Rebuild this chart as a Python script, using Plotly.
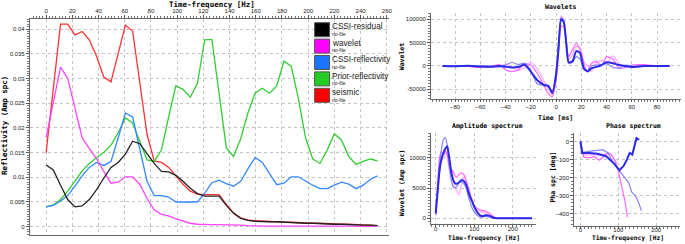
import plotly.graph_objects as go

W, H = 685, 244

# ---------------- main chart data ----------------
freq = [0, 5.5, 11, 16.5, 22, 27.5, 33, 38.5, 44, 49.5, 55, 60.5, 66, 71.5, 77, 82.5, 88, 93.5,
        99, 104.5, 110, 115.5, 121, 126.5, 132, 137.5, 143, 148.5, 154, 159.5, 165, 170.5, 176,
        181.5, 187, 192.5, 198, 203.5, 209, 214.5, 220, 225.5, 231, 236.5, 242, 247.5, 253]

cssi_residual = [0.0125, 0.0115, 0.0084, 0.0055, 0.004, 0.0042, 0.0055, 0.0075, 0.0098, 0.012,
                 0.013, 0.0147, 0.0173, 0.0168, 0.0148, 0.0128, 0.0112, 0.0111, 0.0104, 0.0092,
                 0.0078, 0.0067, 0.0062, 0.0062, 0.0062, 0.0043, 0.0027, 0.0017, 0.0013, 0.0011,
                 0.001, 0.001, 0.001, 0.0009, 0.0008, 0.0008, 0.0007, 0.0007, 0.0006, 0.0006,
                 0.0005, 0.0005, 0.0004, 0.0004, 0.0003, 0.0003, 0.0002]
wavelet_amp = [0.018, 0.025, 0.0323, 0.030, 0.024, 0.018, 0.0158, 0.0138, 0.0112, 0.0088,
               0.009, 0.0101, 0.0101, 0.0086, 0.0057, 0.0034, 0.0025, 0.0022, 0.0016, 0.0011,
               0.0007, 0.0005, 0.0004, 0.0004, 0.0004, 0.0004, 0.0004, 0.0003, 0.0002, 0.0001,
               0.0001, 0.0001, 0.0001, 0.0001, 0.0001, 0.0001, 0.0001, 0.0001, 0.0001, 0.0001,
               0.0001, 0.0001, 0.0001, 0.0001, 0.0001, 0.0001, 0.0001]
cssi_reflectivity = [0.004, 0.0043, 0.0052, 0.0063, 0.0082, 0.0103, 0.012, 0.013, 0.0124, 0.0132,
                     0.018, 0.023, 0.0222, 0.0155, 0.0092, 0.0063, 0.0063, 0.006, 0.005, 0.005,
                     0.005, 0.005, 0.0068, 0.0089, 0.0094, 0.0087, 0.0082, 0.0092, 0.0117, 0.014,
                     0.013, 0.0108, 0.0085, 0.0088, 0.0101, 0.0101, 0.0092, 0.0084, 0.0077, 0.0077,
                     0.0084, 0.009, 0.0086, 0.0077, 0.0084, 0.0096, 0.0103]
prior_reflectivity = [0.004, 0.0044, 0.0055, 0.0072, 0.0092, 0.0113, 0.0128, 0.014, 0.015, 0.0165,
                      0.019, 0.022, 0.021, 0.0172, 0.0135, 0.0132, 0.0155, 0.0222, 0.0285, 0.0278,
                      0.0262, 0.029, 0.0378, 0.0379, 0.027, 0.016, 0.0142, 0.0178, 0.023, 0.027,
                      0.028, 0.027, 0.0285, 0.0335, 0.0325, 0.026, 0.018, 0.0137, 0.0128, 0.0155,
                      0.0188, 0.0175, 0.0142, 0.0126, 0.0132, 0.0137, 0.0133]
seismic = [0.015, 0.028, 0.041, 0.041, 0.0388, 0.0395, 0.0378, 0.0345, 0.0303, 0.0293,
           0.035, 0.0408, 0.0396, 0.029, 0.0187, 0.0133, 0.013, 0.012, 0.0102, 0.0086,
           0.0072, 0.0066, 0.0065, 0.0065, 0.0065, 0.0045, 0.0028, 0.0018, 0.0014, 0.0012,
           0.0011, 0.0011, 0.001, 0.0009, 0.0009, 0.0008, 0.0008, 0.0007, 0.0007, 0.0006,
           0.0006, 0.0005, 0.0005, 0.0004, 0.0004, 0.0003, 0.0002]

series_names = ["CSSI-residual", "wavelet", "CSSI-reflectivity", "Prior-reflectivity", "seismic"]
series_values = [cssi_residual, wavelet_amp, cssi_reflectivity, prior_reflectivity, seismic]
series_line_colors = ["#222222", "#ff44ff", "#3388ff", "#33cc33", "#ff3333"]
legend_colors = ["#000000", "#ff00ff", "#1a75ff", "#22cc22", "#ff0000"]
y_ticks = [0, 0.005, 0.01, 0.015, 0.02, 0.025, 0.03, 0.035, 0.04]
y_tick_text = ["0", "0.005", "0.01", "0.015", "0.02", "0.025", "0.03", "0.035", "0.04"]
x_ticks = [0, 20, 40, 60, 80, 100, 120, 140, 160, 180, 200, 220, 240, 260]

# ---------------- wavelets ----------------
wl_time = [-90, -80, -70, -60, -50, -45, -40, -35, -30, -25, -20, -15, -10, -6, -3, 0, 2, 4, 6, 8,
           10, 13, 16, 19, 22, 25, 28, 32, 36, 40, 45, 50, 55, 60, 70, 80, 90]
wl_dark = [0, -500, 500, -1000, -1500, 0, -1500, -3000, -2000, 2500, -12000, -30000, -40000, -43000,
           -58000, -20000, 40000, 100000, 95000, 50000, 8000, 10000, 32000, 28000, -5000, -12000,
           -5000, -2000, 2000, 8000, 6000, 2000, 0, -2000, 0, 0, 0]
wl_light = [0, 500, 0, 500, -500, -2000, 2000, 8000, 3000, 6000, -10000, -38000, -42000, -45000,
            -55000, -10000, 50000, 104000, 98000, 55000, 5000, 8000, 20000, 15000, -8000, -10000,
            0, 2000, 3000, 5000, -3000, -4000, 2000, 0, 0, 0, 0]
wl_pink1 = [0, 0, -1000, -3000, 0, 3000, -8000, -12000, -8000, 5000, 2000, -15000, -40000, -60000,
            -66000, -30000, 30000, 85000, 85000, 55000, 20000, 35000, 48000, 35000, 5000, -12000,
            5000, 10000, 0, 20000, 15000, -5000, -3000, 2000, 3000, 0, 0]
wl_pink2 = [0, 0, 0, -2000, -3000, -1000, 4000, -2000, -10000, -3000, 8000, -5000, -30000, -50000,
            -62000, -25000, 45000, 108000, 100000, 60000, 12000, 25000, 42000, 40000, 10000, 0,
            -12000, 8000, 12000, 5000, 22000, 5000, -3000, 0, 1000, 0, 0]
wl_y_ticks = [-50000, 0, 50000, 100000]
wl_y_text = ["-50000", "0", "50000", "100000"]

# ---------------- amplitude spectrum ----------------
amp_freq = [0, 5, 10, 15, 20, 25, 30, 35, 40, 45, 50, 55, 60, 65, 70, 75, 80, 85, 90, 95, 100,
            110, 120, 130, 140, 150, 160, 200, 250]
amp_dark = [800, 4500, 8000, 9800, 10800, 11500, 11900, 10000, 7800, 6400, 5800, 5700, 5900, 6200,
            6300, 6000, 5400, 4300, 3400, 2700, 1900, 800, 350, 500, 400, 100, 0, 0, 0]
amp_light = [500, 5000, 9000, 11500, 13000, 13300, 12000, 9000, 6500, 5200, 5000, 5300, 5800, 6000,
             5900, 5500, 4800, 3500, 2500, 1600, 1000, 400, 200, 300, 200, 50, 0, 0, 0]
amp_pink1 = [1000, 6000, 10000, 11000, 10500, 11200, 10500, 8600, 8000, 7800, 7000, 6800, 7200,
             7500, 7400, 7000, 6000, 5000, 3800, 3000, 2200, 1500, 1300, 1200, 800, 300, 0, 0, 0]
amp_pink2 = [600, 4000, 7500, 9500, 10000, 10800, 10200, 8000, 6500, 6000, 5000, 4500, 3800, 5000,
             6500, 6800, 6000, 5000, 3800, 2800, 2000, 1200, 1000, 900, 500, 200, 0, 0, 0]
amp_y_ticks = [0, 5000, 10000]
amp_y_text = ["0", "5000", "10000"]

# ---------------- phase spectrum ----------------
ph_dark_f = [0, 4.5, 23, 45, 68, 91, 103, 114, 123, 130, 137, 141, 148, 155]
ph_dark = [0, -64, -64, -69, -82, -127, -160, -136, -100, -64, -73, -36, 18, 9]
ph_light_f = [0, 4.5, 23, 41, 59, 73, 86, 100, 114, 127, 136, 145, 155, 161]
ph_light = [0, -60, -55, -52, -46, -64, -118, -155, -191, -228, -283, -300, -346, -385]
ph_pink1_f = [0, 9, 23, 36, 50, 64, 73, 82, 91, 100, 109, 118, 124]
ph_pink1 = [0, -87, -91, -85, -104, -82, -64, -73, -109, -164, -255, -336, -420]
ph_pink2_f = [0, 6, 23, 41, 59, 70, 80, 90, 98]
ph_pink2 = [0, -73, -76, -73, -80, -62, -70, -100, -125]
ph_y_ticks = [-400, -300, -200, -100, 0]

fig = go.Figure()

# main chart traces (drawn so that the residual ends on top)
for idx in [4, 3, 2, 1, 0]:
    fig.add_trace(go.Scatter(x=freq, y=series_values[idx], mode="lines", name=series_names[idx],
                             line=dict(color=series_line_colors[idx], width=1.3),
                             xaxis="x", yaxis="y", showlegend=False))

pal = {"dark": ("#2b2be6", 2.0), "light": ("#8585ff", 1.2), "p1": ("#ff66ff", 1.2), "p2": ("#ffa8ff", 1.2)}

for key, yv in [("p2", wl_pink2), ("p1", wl_pink1), ("light", wl_light), ("dark", wl_dark)]:
    c, w = pal[key]
    fig.add_trace(go.Scatter(x=wl_time, y=yv, mode="lines", line=dict(color=c, width=w, shape="spline", smoothing=0.6),
                             xaxis="x2", yaxis="y2", showlegend=False))
for key, yv in [("p2", amp_pink2), ("p1", amp_pink1), ("light", amp_light), ("dark", amp_dark)]:
    c, w = pal[key]
    fig.add_trace(go.Scatter(x=amp_freq, y=yv, mode="lines", line=dict(color=c, width=w, shape="spline", smoothing=0.5),
                             xaxis="x3", yaxis="y3", showlegend=False))
for key, xv, yv in [("p2", ph_pink2_f, ph_pink2), ("p1", ph_pink1_f, ph_pink1),
                    ("light", ph_light_f, ph_light), ("dark", ph_dark_f, ph_dark)]:
    c, w = pal[key]
    fig.add_trace(go.Scatter(x=xv, y=yv, mode="lines", line=dict(color=c, width=w),
                             xaxis="x4", yaxis="y4", showlegend=False))

tickfont = dict(family="Liberation Sans, Arial", size=6, color="#222")
base = dict(showgrid=True, gridcolor="#c4c4c4", griddash="dot", gridwidth=1, zeroline=False,
            showline=True, linecolor="#666", linewidth=1, ticks="outside", tickcolor="#555",
            tickfont=tickfont)


def dom(a, b, size):
    return [a / size, b / size]


def minor(dt):
    return dict(ticks="outside", ticklen=2, dtick=dt, tickcolor="#777", showgrid=False)


fig.update_layout(
    width=W, height=H, margin=dict(l=0, r=0, t=0, b=0),
    paper_bgcolor="white", plot_bgcolor="white",
    xaxis=dict(domain=dom(30, 391, W), range=[-12.4, 261.9], side="top", anchor="y",
               tickvals=x_ticks, mirror=True, ticklen=3, minor=minor(2.5), **base),
    yaxis=dict(domain=[1 - 235 / H, 1 - 19 / H], range=[-0.00168, 0.04203], anchor="x",
               tickvals=y_ticks, ticktext=y_tick_text, ticklen=3, minor=minor(0.0005), **base),
    xaxis2=dict(domain=dom(433, 684, W), range=[-99, 99], anchor="y2", dtick=20, ticklen=2,
                minor=minor(2.5), **base),
    yaxis2=dict(domain=[1 - 99 / H, 1 - 13.3 / H], range=[-70800, 113000], anchor="x2",
                tickvals=wl_y_ticks, ticktext=wl_y_text, ticklen=3, minor=minor(6250), **base),
    xaxis3=dict(domain=dom(433, 538, W), range=[-12, 259.5], anchor="y3", tickvals=[0, 100, 200],
                ticklen=2, ticklabelstandoff=-3, minor=minor(10), **base),
    yaxis3=dict(domain=[1 - 224 / H, 1 - 133.3 / H], range=[-940, 14025], anchor="x3",
                tickvals=amp_y_ticks, ticktext=amp_y_text, ticklen=3, minor=minor(500), **base),
    xaxis4=dict(domain=dom(576.7, 683, W), range=[-16.6, 263], anchor="y4", tickvals=[0, 100, 200],
                ticklen=2, ticklabelstandoff=-4, minor=minor(10), **base),
    yaxis4=dict(domain=[1 - 226 / H, 1 - 133.3 / H], range=[-469, 45], anchor="x4",
                tickvals=ph_y_ticks, ticklen=3, minor=minor(20), **base),
)


def P(x, y):
    return x / W, 1 - y / H


annots = []


def txt(x, y, s, size=7.5, angle=0, bold=True, anchor="center", family=None, color="#000", yanchor="middle"):
    xx, yy = P(x, y)
    annots.append(dict(x=xx, y=yy, xref="paper", yref="paper", text=(f"<b>{s}</b>" if bold else s),
                       showarrow=False, textangle=angle, xanchor=anchor, yanchor=yanchor, borderpad=0,
                       font=dict(family=family or "DejaVu Sans Mono", size=size, color=color)))


txt(212.5, 5, "Time-frequency [Hz]", 7.5)
txt(5, 125, "Reflectivity (Amp spc)", 7.5, angle=-90)
txt(563, 7, "Wavelets", 6.5)
txt(558, 118, "Time [ms]", 6.5)
txt(404, 57, "Wavelet", 6.5, angle=-90)
txt(490, 126, "Amplitude spectrum", 6.5)
txt(486, 238, "Time-frequency [Hz]", 6.3)
txt(404, 183, "Wavelet (Amp spc)", 6.5, angle=-90)
txt(636, 126, "Phase spectrum", 6.5)
txt(631, 238, "Time-frequency [Hz]", 6.3)
txt(555, 177, "Pha spc [deg]", 6.5, angle=-90)

shapes = []
x0, y0 = P(313, 20)
x1, y1 = P(394, 104)
shapes.append(dict(type="rect", xref="paper", yref="paper", x0=x0, y0=y1, x1=x1, y1=y0,
                   fillcolor="white", line=dict(width=0), layer="between"))
for k, name in enumerate(series_names):
    top = 22.7 + k * 16.4
    a0, b0 = P(316, top)
    a1, b1 = P(331, top + 14)
    shapes.append(dict(type="rect", xref="paper", yref="paper", x0=a0, y0=b1, x1=a1, y1=b0,
                       fillcolor=legend_colors[k], line=dict(color="#555", width=1), layer="above"))
    txt(332.5, top + 4.3, name, 8.2, bold=False, anchor="left", family="Liberation Sans, Arial", color="#222")
    txt(332.5, top + 11.2, "no-file", 5, bold=False, anchor="left", family="Liberation Sans, Arial", color="#222")

fig.update_layout(annotations=annots, shapes=shapes)
fig.write_html("out.html", config={"displayModeBar": False},
               post_script="document.body.style.margin='0';document.body.style.overflow='hidden';")
